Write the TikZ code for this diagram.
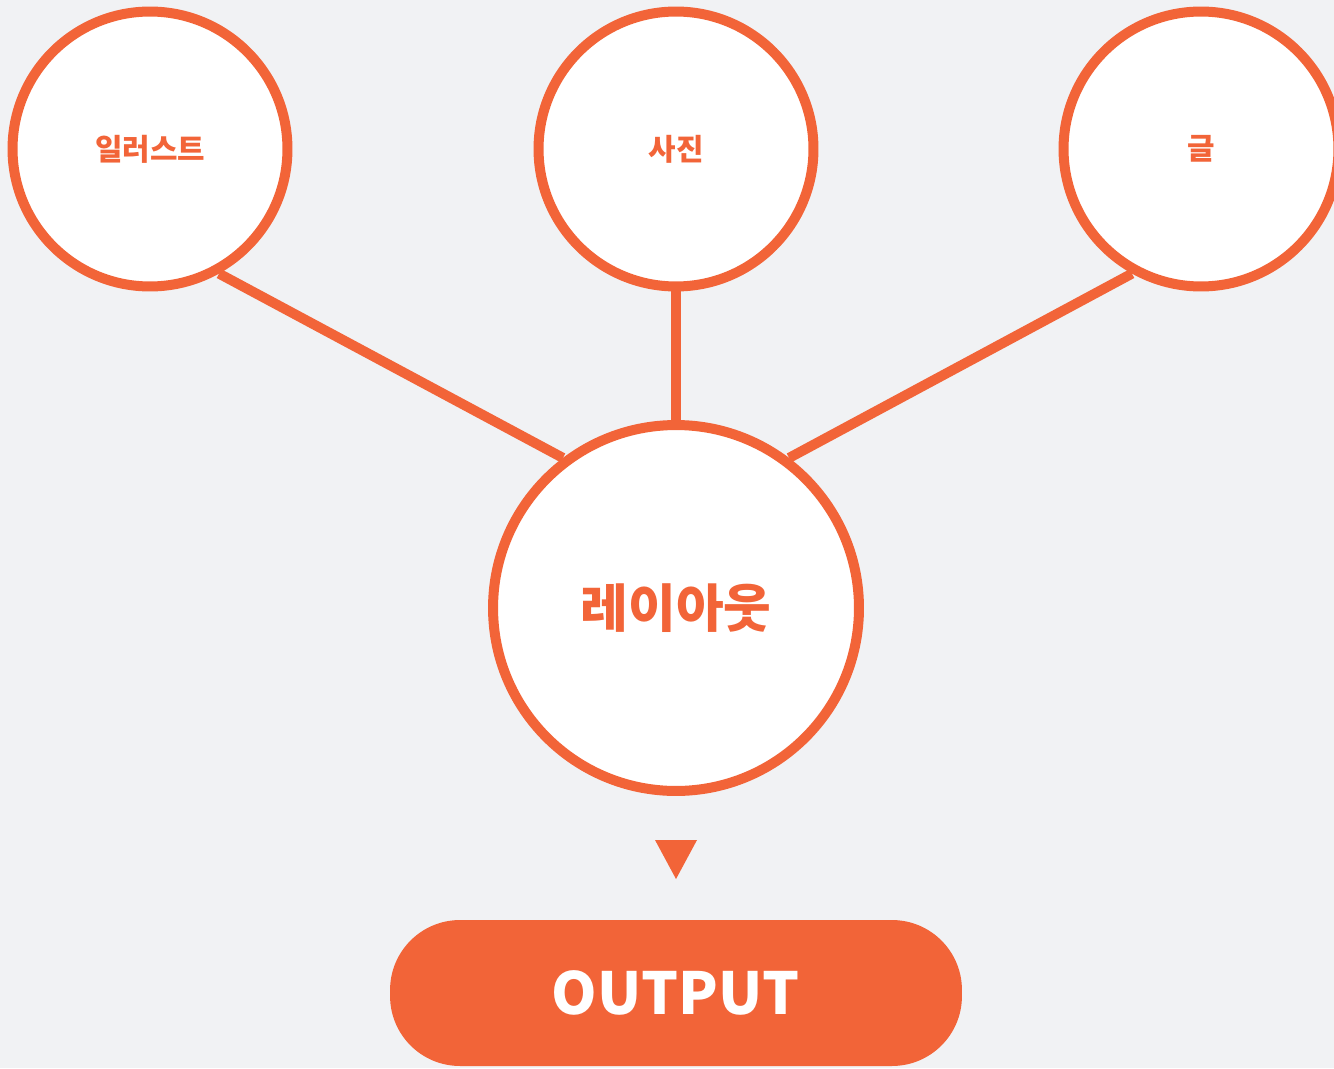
\documentclass[tikz,border=0pt]{standalone}
\usepackage{fontspec}
\newfontfamily\kr{Noto Sans CJK KR Black}
\definecolor{bg}{HTML}{F1F2F4}
\definecolor{orng}{HTML}{F26438}
\begin{document}
\begin{tikzpicture}[x=0.02cm,y=-0.02cm,
  bubble/.style={circle,draw=orng,fill=white,line width=0.2cm,minimum size=5.5cm,inner sep=0pt,
    font=\kr\fontsize{17}{19}\selectfont,text=orng},
  bigbubble/.style={bubble,minimum size=7.32cm,font=\kr\fontsize{29.5}{32}\selectfont},
  link/.style={draw=orng,line width=0.2cm},
  pill/.style={fill=orng,rounded corners=1.4cm,minimum width=11.44cm,minimum height=2.92cm,
    font=\kr\fontsize{33}{36}\selectfont,text=white,inner sep=0pt},
  tri/.style={fill=orng,draw=none}]
\fill[bg] (0,0) rectangle (1334,1068);
\useasboundingbox (0,0) rectangle (1334,1068);
\node[bubble] (ill) at (150,149) {일러스트};
\node[bubble] (pho) at (676,149) {사진};
\node[bubble] (txt) at (1201,149) {글};
\node[bigbubble] (lay) at (676,608) {레이아웃};
\draw[link] (ill.-61) -- (lay.127);
\draw[link] (pho.south) -- (lay.north);
\draw[link] (txt.-119) -- (lay.53);
\coordinate (ta) at (655,840);
\coordinate (tb) at (697,840);
\coordinate (tc) at (676,879);
\fill[tri] (ta) -- (tb) -- (tc) -- cycle;
\node[pill] (out) at (676,993) {OUTPUT};
\end{tikzpicture}
\end{document}
